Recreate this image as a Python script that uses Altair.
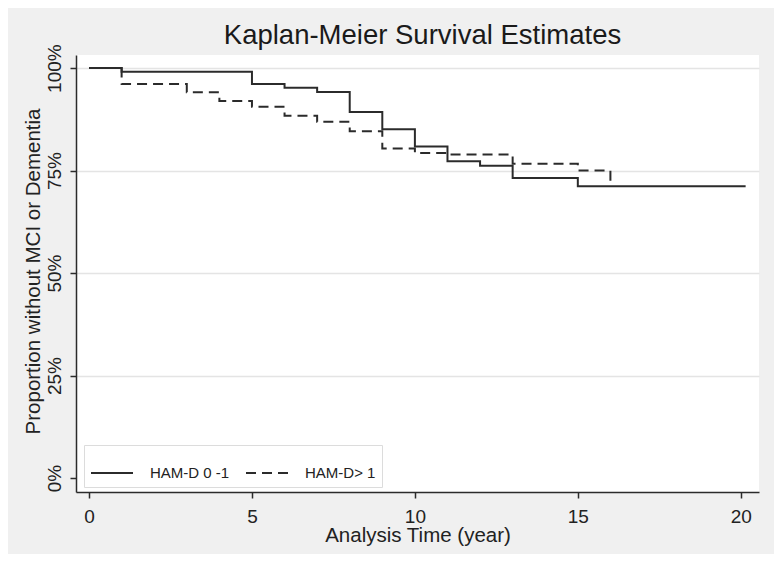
import altair as alt
import pandas as pd

# ---- data ----
groups = ["HAM-D 0 -1", "HAM-D> 1"]

time_low = [0, 1, 5, 6, 7, 8, 9, 10, 11, 12, 13, 15, 20.15]
surv_low = [100, 99.1, 96.1, 95.2, 94.2, 89.3, 85.1, 80.9, 77.3, 76.2, 73.2, 71.2, 71.2]

time_high = [0, 1, 3, 4, 5, 6, 7, 8, 9, 10, 11, 13, 15, 16]
surv_high = [100, 96.1, 94.1, 92.0, 90.6, 88.4, 86.9, 84.6, 80.4, 79.3, 78.9, 76.7, 75.0, 71.2]

x_ticks = [0, 5, 10, 15, 20]
y_ticks = [0, 25, 50, 75, 100]

df = pd.concat([
    pd.DataFrame({"t": time_low, "s": surv_low, "group": groups[0]}),
    pd.DataFrame({"t": time_high, "s": surv_high, "group": groups[1]}),
])

FONT = "Liberation Sans"
INK = "#2b2b2b"

chart = alt.Chart(df).mark_line(
    interpolate="step-after", color=INK, strokeWidth=2
).encode(
    x=alt.X(
        "t:Q",
        scale=alt.Scale(domain=[-0.40, 20.56], nice=False, zero=False),
        axis=alt.Axis(
            values=x_ticks, title="Analysis Time (year)", grid=False,
            labelFont=FONT, labelFontSize=19, labelColor="#222222",
            labelBaseline="alphabetic", labelPadding=24, labelFlush=False,
            tickSize=6, tickColor=INK, tickWidth=1.5,
            domainColor=INK, domainWidth=1.5,
            titleFont=FONT, titleFontSize=20.5, titleFontWeight="normal",
            titleColor="#222222", titleBaseline="alphabetic", titleY=49,
        ),
    ),
    y=alt.Y(
        "s:Q",
        scale=alt.Scale(domain=[-3.4, 103.2], nice=False, zero=False),
        axis=alt.Axis(
            values=y_ticks, labelExpr="datum.value + '%'",
            title="Proportion without MCI or Dementia",
            grid=True, gridColor="#e4e4e4", gridWidth=1.5,
            gridOpacity=alt.condition("datum.value == 0", alt.value(0), alt.value(1)),
            labelFont=FONT, labelFontSize=19, labelColor="#222222",
            labelAngle=270, labelAlign="center", labelBaseline="alphabetic",
            labelPadding=10, labelFlush=False,
            tickSize=6, tickColor=INK, tickWidth=1.5,
            domainColor=INK, domainWidth=1.5,
            titleFont=FONT, titleFontSize=20.5, titleFontWeight="normal",
            titleColor="#222222", titleAngle=270, titleAlign="center",
            titleBaseline="alphabetic", titleX=-37, titleY=216,
        ),
    ),
    strokeDash=alt.StrokeDash(
        "group:N",
        scale=alt.Scale(domain=groups, range=[[1, 0], [10, 6]]),
        legend=alt.Legend(
            title=None, orient="none", legendX=8, legendY=390,
            direction="horizontal", symbolType="stroke", symbolSize=1764,
            symbolStrokeWidth=2, symbolStrokeColor=INK,
            labelFont=FONT, labelFontSize=15, labelColor="#222222",
            labelOffset=16, columnPadding=12, padding=6,
            fillColor="white", strokeColor="#dcdcdc",
        ),
    ),
).properties(
    width=683,
    height=437,
    autosize="none",
    padding={"left": 68, "top": 47, "right": 15, "bottom": 62},
    background="#f0f0f0",
    title=alt.Title(
        "Kaplan-Meier Survival Estimates", fontSize=27.5, font=FONT,
        fontWeight="normal", color="#1a1a1a", anchor="middle",
        frame="group", baseline="alphabetic", offset=8, dx=5, dy=36,
    ),
).configure_view(fill="white", strokeWidth=0)

chart.save("out.html", embed_options={"renderer": "svg", "actions": False})
